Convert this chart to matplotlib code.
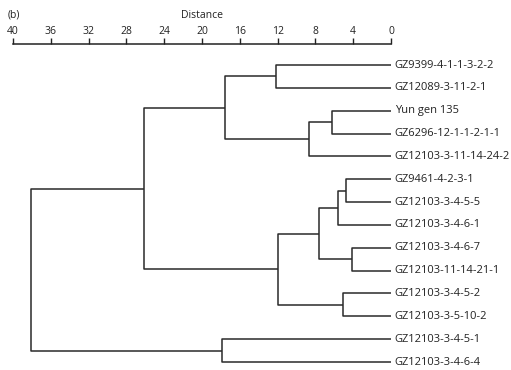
import matplotlib.pyplot as plt

# leaf labels, top to bottom
labels = ['GZ9399-4-1-1-3-2-2', 'GZ12089-3-11-2-1', 'Yun gen 135',
          'GZ6296-12-1-1-2-1-1', 'GZ12103-3-11-14-24-2', 'GZ9461-4-2-3-1',
          'GZ12103-3-4-5-5', 'GZ12103-3-4-6-1', 'GZ12103-3-4-6-7',
          'GZ12103-11-14-21-1', 'GZ12103-3-4-5-2', 'GZ12103-3-5-10-2',
          'GZ12103-3-4-5-1', 'GZ12103-3-4-6-4']

# merges: new cluster ids start at len(labels)
merge_left = [0, 2, 15, 14, 5, 18, 8, 19, 10, 21, 17, 12, 24]
merge_right = [1, 3, 4, 16, 6, 7, 9, 20, 11, 22, 23, 13, 25]
merge_dist = [12.2, 6.2, 8.7, 17.6, 4.8, 5.6, 4.1, 7.6, 5.1, 12.0, 26.1, 17.85, 38.1]

ticks = [40, 36, 32, 28, 24, 20, 16, 12, 8, 4, 0]

plt.rcParams['font.family'] = ['Open Sans', 'DejaVu Sans']
fig = plt.figure(figsize=(5.11, 3.70), dpi=100)
ax = fig.add_axes([13 / 511, 0, 378 / 511, 326 / 370])

n = len(labels)
ypos = {i: i for i in range(n)}
xpos = {i: 0.0 for i in range(n)}
lc = '#2a2a2a'
for k, (a, b, d) in enumerate(zip(merge_left, merge_right, merge_dist)):
    node = n + k
    ax.plot([xpos[a], d, d, xpos[b]], [ypos[a], ypos[a], ypos[b], ypos[b]],
            color=lc, lw=1.1, solid_capstyle='butt')
    ypos[node] = (ypos[a] + ypos[b]) / 2
    xpos[node] = d

for i, lab in enumerate(labels):
    ax.text(-0.4, i, lab, fontsize=8, va='center', ha='left', color='#222222')

ax.set_xlim(40, 0)
ax.set_ylim(13.35, -0.92)
ax.xaxis.tick_top()
ax.set_xticks(ticks)
ax.tick_params(axis='x', direction='out', length=4, width=1, labelsize=7.5, pad=1, colors='#222222')
ax.set_yticks([])
for s in ['left', 'right', 'bottom']:
    ax.spines[s].set_visible(False)
ax.spines['top'].set_linewidth(1.1)
ax.spines['top'].set_color('#222222')

fig.text(202 / 511, 1 - 15 / 370, 'Distance', fontsize=7.5, ha='center', va='center', color='#222222')
fig.text(8 / 511, 1 - 15 / 370, '(b)', fontsize=7.5, ha='left', va='center', color='#222222')

plt.savefig('out.png')
